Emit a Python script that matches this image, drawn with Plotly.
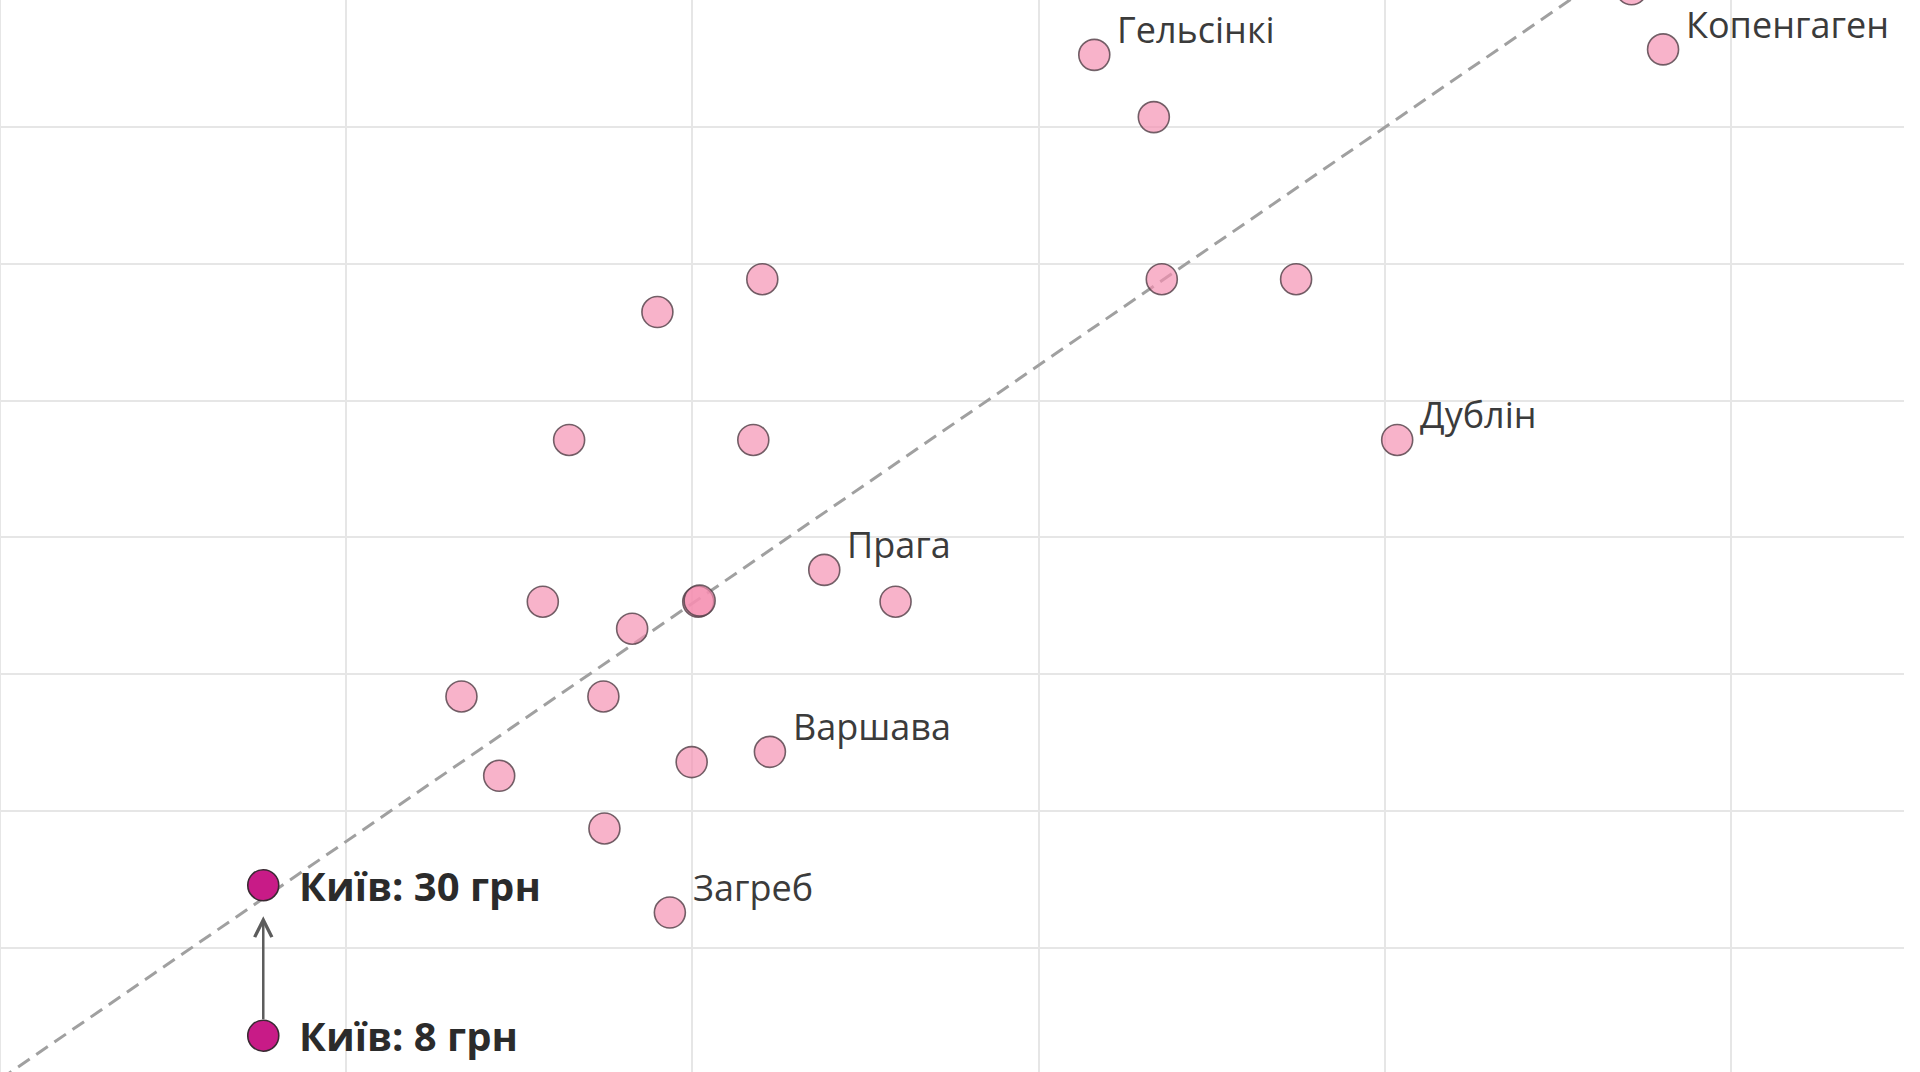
import plotly.graph_objects as go

# ---- data ----
CITY_X = [4.713, 4.804, 3.161, 3.333, 3.356, 3.744, 2.202, 1.899, 1.644, 2.176,
          4.036, 2.381, 2.587, 2.017, 2.021, 1.568, 1.826, 1.333, 1.743, 2.224,
          1.998, 1.442, 1.746, 1.935]
CITY_Y = [161.0, 152.2, 151.4, 142.3, 118.6, 118.6, 118.6, 113.8, 95.1, 95.1,
          95.1, 76.1, 71.45, 71.45, 71.6, 71.45, 67.5, 57.6, 57.6, 49.5,
          48.0, 46.0, 38.3, 26.0]
CITY_LABELS = ["", "Копенгаген", "Гельсінкі", "", "", "", "", "", "", "",
               "Дублін", "Прага", "", "", "", "", "", "", "", "Варшава",
               "", "", "", "Загреб"]

KYIV_X = [0.7605, 0.7605]
KYIV_Y = [8, 30]
KYIV_LABELS = ["Київ: 8 грн", "Київ: 30 грн"]

TREND_INTERCEPT = 1.6
TREND_SLOPE = 34.8

X_RANGE = [0, 5.5]
Y_RANGE = [2.69, 159.42]

FONT = "Segoe UI, Open Sans, Noto Sans, sans-serif"

fig = go.Figure()

# trend line
tx = list(X_RANGE)
ty = [TREND_INTERCEPT + TREND_SLOPE * v for v in tx]
fig.add_trace(go.Scatter(
    x=tx, y=ty, mode="lines",
    line=dict(color="#a0a0a0", width=3, dash="14px,8px"),
    hoverinfo="skip"))

# cities
fig.add_trace(go.Scatter(
    x=CITY_X, y=CITY_Y, mode="markers",
    marker=dict(size=31, color="rgba(244,143,177,0.68)",
                line=dict(color="rgba(80,62,70,0.8)", width=1.6)),
    text=CITY_LABELS, hoverinfo="text"))

# Kyiv
fig.add_trace(go.Scatter(
    x=KYIV_X, y=KYIV_Y, mode="markers",
    marker=dict(size=31, color="#c81b87",
                line=dict(color="#3a2a33", width=1.6)),
    text=KYIV_LABELS, hoverinfo="text"))

annotations = []
for x, y, t in zip(CITY_X, CITY_Y, CITY_LABELS):
    if t:
        annotations.append(dict(
            x=x, y=y, xref="x", yref="y", text=t, showarrow=False,
            xanchor="left", yanchor="middle", xshift=21, yshift=25,
            font=dict(family=FONT, size=36, color="#3b3b3b")))
for x, y, t in zip(KYIV_X, KYIV_Y, KYIV_LABELS):
    annotations.append(dict(
        x=x, y=y, xref="x", yref="y", text="<b>" + t + "</b>", showarrow=False,
        xanchor="left", yanchor="middle", xshift=34, yshift=0,
        font=dict(family=FONT, size=40, color="#2b2b2b")))

# arrow from 8 grn to 30 grn
annotations.append(dict(
    x=KYIV_X[1], y=KYIV_Y[1], ax=KYIV_X[0], ay=KYIV_Y[0],
    xref="x", yref="y", axref="x", ayref="y", text="",
    showarrow=True, arrowhead=5, arrowsize=1.35, arrowwidth=2.5,
    arrowcolor="#5c5c5c", standoff=31, startstandoff=15))

fig.update_layout(
    width=1920, height=1072,
    margin=dict(l=0, r=16, t=0, b=0, pad=0),
    paper_bgcolor="white", plot_bgcolor="white",
    showlegend=False,
    annotations=annotations,
    xaxis=dict(range=X_RANGE, showticklabels=False, ticks="", showline=False,
               showgrid=True, gridcolor="#e6e6e6", gridwidth=2,
               zeroline=True, zerolinecolor="#e6e6e6", zerolinewidth=2,
               tick0=0, dtick=1, fixedrange=True),
    yaxis=dict(range=Y_RANGE, showticklabels=False, ticks="", showline=False,
               showgrid=True, gridcolor="#e6e6e6", gridwidth=2,
               zeroline=False, tick0=0.85, dtick=20, fixedrange=True),
)

fig.write_html("out.html", config={"displayModeBar": False})
